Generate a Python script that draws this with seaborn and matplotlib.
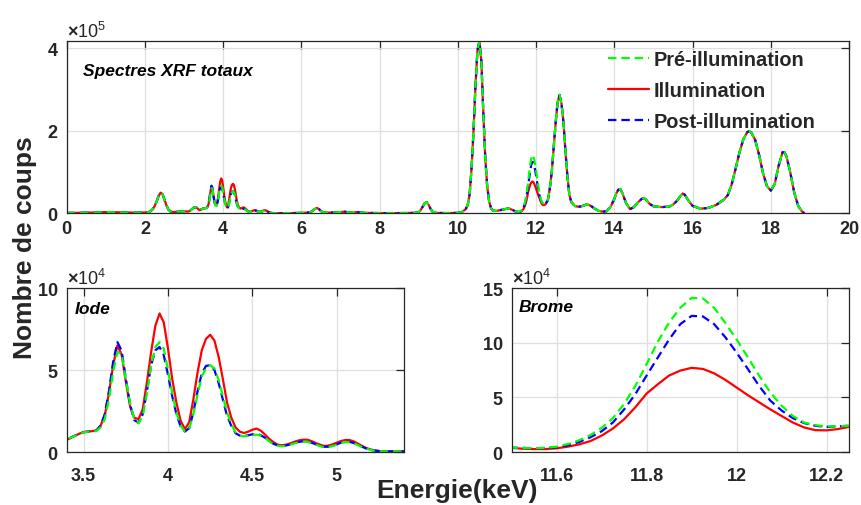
import numpy as np
import pandas as pd
import seaborn as sns
import matplotlib
matplotlib.use("Agg")
import matplotlib.pyplot as plt
from matplotlib.ticker import ScalarFormatter, FuncFormatter

# ---- Données (coups en unités de 1e4) ----
# zone basse énergie, commune aux trois spectres
e_bas = [0.0, 0.25, 0.5, 0.75, 1.0, 1.25, 1.5, 1.75, 2.0, 2.1, 2.15, 2.2, 2.25, 2.3,
         2.35, 2.4, 2.45, 2.5, 2.55, 2.6, 2.65, 2.7, 2.8, 2.9, 3.0, 3.1, 3.15, 3.2,
         3.25, 3.3, 3.35]
c_bas = [0.1, 0.1, 0.15, 0.2, 0.3, 0.25, 0.2, 0.15, 0.2, 0.3, 0.6, 1.0, 1.8, 2.9,
         4.2, 5.0, 4.6, 3.3, 1.9, 0.9, 0.45, 0.3, 0.35, 0.45, 0.5, 0.4, 0.6, 1.0,
         1.4, 1.5, 1.1]

# zone de l'iode (3.4 - 5.4 keV, pas de 0.025 keV)
e_iode = list(np.round(np.linspace(3.4, 5.4, 81), 3))
iode_pre = [0.73, 0.88, 1.00, 1.10, 1.20, 1.24, 1.25, 1.28, 1.50, 2.00, 3.20, 4.90,
            6.10, 6.00, 4.40, 3.00, 2.00, 1.75, 2.20, 3.60, 5.30, 6.40, 6.70, 6.30,
            5.00, 3.60, 2.40, 1.60, 1.25, 1.40, 2.30, 3.50, 4.60, 5.10, 5.30, 5.10,
            4.40, 3.40, 2.40, 1.70, 1.20, 1.00, 0.95, 1.00, 1.05, 1.05, 1.00, 0.85,
            0.65, 0.48, 0.38, 0.35, 0.38, 0.45, 0.53, 0.60, 0.63, 0.62, 0.55, 0.45,
            0.36, 0.30, 0.30, 0.36, 0.45, 0.55, 0.60, 0.60, 0.53, 0.42, 0.30, 0.20,
            0.13, 0.08, 0.05, 0.04, 0.04, 0.04, 0.04, 0.04, 0.04]
iode_ill = [0.73, 0.88, 1.00, 1.12, 1.22, 1.26, 1.27, 1.32, 1.60, 2.20, 3.60, 5.30,
            6.50, 5.95, 4.30, 2.80, 2.10, 2.00, 2.60, 4.25, 6.10, 7.70, 8.45, 7.90,
            6.30, 4.45, 3.00, 1.90, 1.40, 1.80, 3.20, 4.85, 6.20, 6.90, 7.15, 6.80,
            5.80, 4.45, 3.00, 2.10, 1.50, 1.24, 1.16, 1.24, 1.36, 1.43, 1.30, 1.06,
            0.80, 0.60, 0.45, 0.41, 0.45, 0.53, 0.63, 0.71, 0.75, 0.75, 0.67, 0.55,
            0.45, 0.37, 0.39, 0.47, 0.57, 0.67, 0.73, 0.73, 0.65, 0.51, 0.37, 0.24,
            0.16, 0.10, 0.06, 0.05, 0.04, 0.04, 0.04, 0.04, 0.04]
iode_post = [0.75, 0.88, 1.00, 1.10, 1.20, 1.24, 1.25, 1.30, 1.60, 2.30, 3.70, 5.50,
             6.70, 6.20, 4.50, 2.90, 1.95, 1.78, 2.30, 3.70, 5.30, 6.20, 6.40, 5.90,
             4.70, 3.40, 2.30, 1.55, 1.25, 1.45, 2.40, 3.70, 4.80, 5.25, 5.30, 5.00,
             4.20, 3.20, 2.20, 1.60, 1.15, 1.00, 0.98, 1.02, 1.08, 1.10, 1.02, 0.87,
             0.67, 0.50, 0.40, 0.37, 0.40, 0.47, 0.55, 0.62, 0.65, 0.64, 0.57, 0.47,
             0.38, 0.32, 0.32, 0.38, 0.47, 0.57, 0.62, 0.62, 0.55, 0.44, 0.32, 0.21,
             0.14, 0.09, 0.06, 0.05, 0.04, 0.04, 0.04, 0.04, 0.04]

# zone intermédiaire, commune
e_mid = [5.5, 5.75, 6.0, 6.2, 6.25, 6.3, 6.35, 6.4, 6.45, 6.5, 6.55, 6.75, 7.0, 7.1,
         7.25, 7.45, 7.6, 8.0, 8.5, 8.9, 9.0, 9.05, 9.1, 9.15, 9.2, 9.25, 9.3, 9.35,
         9.45, 9.7, 10.0, 10.1, 10.2, 10.25, 10.3, 10.35, 10.4, 10.45, 10.5, 10.55,
         10.6, 10.65, 10.7, 10.75, 10.8, 10.85, 10.9, 11.0, 11.1, 11.2, 11.3, 11.4,
         11.475]
c_mid = [0.03, 0.05, 0.1, 0.2, 0.4, 0.7, 1.1, 1.3, 1.0, 0.55, 0.25, 0.15, 0.3, 0.4,
         0.15, 0.3, 0.1, 0.05, 0.05, 0.1, 0.3, 0.8, 1.6, 2.4, 2.7, 2.1, 1.1, 0.4,
         0.1, 0.05, 0.1, 0.3, 1.0, 2.0, 4.5, 11.0, 20.0, 31.0, 39.5, 41.7,
         37.0, 24.5, 13.5, 6.5, 2.8, 1.2, 0.6, 0.6, 0.8, 1.0, 1.2, 0.8,
         0.45]

# zone du brome (11.5 - 12.25 keV, pas de 0.025 keV)
e_brome = list(np.round(np.linspace(11.5, 12.25, 31), 3))
brome_pre = [0.40, 0.38, 0.35, 0.38, 0.49, 0.73, 1.07, 1.55, 2.20, 3.10, 4.40, 6.05,
             8.05, 10.10, 11.85, 13.20, 14.10, 14.05, 13.20, 11.80, 10.30, 8.66, 7.00,
             5.45, 4.24, 3.30, 2.70, 2.45, 2.35, 2.35, 2.40]
brome_ill = [0.37, 0.30, 0.27, 0.27, 0.34, 0.49, 0.70, 1.00, 1.50, 2.15, 3.00, 4.10,
             5.35, 6.20, 7.00, 7.45, 7.70, 7.60, 7.20, 6.60, 5.90, 5.20, 4.55, 3.90,
             3.30, 2.70, 2.25, 2.00, 1.98, 2.10, 2.30]
brome_post = [0.40, 0.38, 0.35, 0.37, 0.43, 0.62, 0.92, 1.35, 1.90, 2.70, 3.90, 5.30,
              7.00, 8.65, 10.30, 11.70, 12.45, 12.40, 11.70, 10.50, 9.10, 7.60, 6.05,
              4.70, 3.80, 3.10, 2.65, 2.40, 2.30, 2.35, 2.40]

# zone haute énergie, commune
e_haut = [12.3, 12.35, 12.4, 12.45, 12.5, 12.55, 12.6, 12.65, 12.7, 12.75, 12.8, 12.85,
          12.9, 13.0, 13.1, 13.2, 13.3, 13.4, 13.5, 13.6, 13.7, 13.8, 13.9, 14.0,
          14.05, 14.1, 14.15, 14.2, 14.3, 14.4, 14.5, 14.6, 14.7, 14.75, 14.8, 14.9,
          15.0, 15.2, 15.4, 15.5, 15.6, 15.7, 15.75, 15.8, 15.9, 16.0, 16.2, 16.4,
          16.6, 16.8, 16.9, 17.0, 17.1, 17.2, 17.3, 17.4, 17.45, 17.5, 17.6, 17.7,
          17.8, 17.9, 18.0, 18.1, 18.2, 18.3, 18.35, 18.4, 18.5, 18.6, 18.7, 18.8,
          18.85]
c_haut = [3.2, 6.0, 10.0, 16.0, 22.0, 27.0, 28.7, 26.5, 22.0, 15.0, 9.0, 4.5,
          2.7, 1.7, 1.6, 1.8, 2.2, 1.8, 1.1, 0.6, 0.4, 0.5, 1.5, 3.5,
          4.8, 5.7, 5.9, 5.0, 2.5, 1.0, 1.5, 2.6, 3.5, 3.7, 3.4, 2.3,
          1.7, 1.5, 1.6, 2.1, 3.0, 4.3, 4.8, 4.5, 3.0, 1.8, 1.1, 1.3,
          2.0, 3.3, 4.4, 7.0, 10.8, 14.8, 18.0, 19.7, 19.9, 19.6, 17.8, 14.2,
          9.8, 6.6, 5.5, 7.1, 11.5, 14.8, 14.8, 13.8, 9.8, 5.0, 1.8, 0.4,
          0.1]

# assemblage des spectres complets (coups)
energie = np.array(e_bas + e_iode + e_mid + e_brome + e_haut)
pre = np.array(c_bas + iode_pre + c_mid + brome_pre + c_haut) * 1e4
ill = np.array(c_bas + iode_ill + c_mid + brome_ill + c_haut) * 1e4
post = np.array(c_bas + iode_post + c_mid + brome_post + c_haut) * 1e4

spectres = pd.DataFrame({"energie": energie, "pre": pre, "ill": ill, "post": post})

# ---- Style ----
sns.set_style("whitegrid")
plt.rcParams["font.family"] = ["Liberation Sans", "DejaVu Sans"]
plt.rcParams["font.weight"] = "bold"
plt.rcParams["mathtext.fontset"] = "custom"
plt.rcParams["mathtext.rm"] = "Liberation Sans"

gris = "#262626"
series = [  # (colonne, couleur, style, label)
    ("ill", "#ff0000", "-", "Illumination"),
    ("post", "#0000ff", (0, (3.8, 2.2)), "Post-illumination"),
    ("pre", "#00ff00", (0, (3.8, 2.2)), "Pré-illumination"),
]


class OrdreFixe(ScalarFormatter):
    def __init__(self, ordre):
        super().__init__(useMathText=True, useOffset=False)
        self.ordre = ordre

    def _set_order_of_magnitude(self):
        self.orderOfMagnitude = self.ordre


def habiller(ax, xlim, ylim, xticks, yticks, ordre, pad_x):
    ax.set_xlim(*xlim)
    ax.set_ylim(*ylim)
    ax.set_xticks(xticks)
    ax.set_yticks(yticks)
    ax.xaxis.set_major_formatter(FuncFormatter(lambda v, p: f"{v:g}"))
    ax.yaxis.set_major_formatter(OrdreFixe(ordre))
    ax.set_xlabel("")
    ax.set_ylabel("")
    ax.grid(True, color="#dfdfdf", linewidth=0.9)
    ax.tick_params(axis="both", direction="in", length=5.5, width=0.9, colors=gris,
                   labelsize=13, top=True, right=True)
    ax.tick_params(axis="x", pad=pad_x)
    ax.tick_params(axis="y", pad=6)
    for sp in ax.spines.values():
        sp.set_color(gris)
        sp.set_linewidth(0.9)
    off = ax.yaxis.get_offset_text()
    off.set_fontsize(13)
    off.set_fontweight("normal")
    off.set_color(gris)


fig = plt.figure(figsize=(8.61, 5.06), dpi=100)
ax_tot = fig.add_axes([0.0775, 0.5765, 0.9086, 0.3399])
ax_iode = fig.add_axes([0.0775, 0.1047, 0.3921, 0.3241])
ax_br = fig.add_axes([0.5943, 0.1047, 0.3918, 0.3241])

lignes = {}
for ax in (ax_tot, ax_iode, ax_br):
    for col, couleur, style, label in series:
        sns.lineplot(data=spectres, x="energie", y=col, ax=ax, color=couleur,
                     linestyle=style, linewidth=1.6, label=label)
        if ax is ax_tot:
            lignes[col] = ax.get_lines()[-1]
    if ax.get_legend() is not None:
        ax.get_legend().remove()

habiller(ax_tot, (0, 20), (0, pre.max()), range(0, 21, 2), [0, 2e5, 4e5], 5, 5)
habiller(ax_iode, (3.4, 5.4), (0, 1e5), [3.5, 4, 4.5, 5], [0, 5e4, 1e5], 4, 11)
habiller(ax_br, (11.5, 12.25), (0, 1.5e5), [11.6, 11.8, 12, 12.2], [0, 5e4, 1e5, 1.5e5], 4, 11)

ax_tot.legend(handles=[lignes["pre"], lignes["ill"], lignes["post"]],
              labels=["Pré-illumination", "Illumination", "Post-illumination"],
              loc="upper right", bbox_to_anchor=(0.957, 0.95), frameon=False,
              fontsize=14.4, handlelength=2.05, handletextpad=0.25,
              labelspacing=0.6, borderpad=0, borderaxespad=0)

ax_tot.text(0.021, 0.804, "Spectres XRF totaux", transform=ax_tot.transAxes,
            fontsize=12.5, fontweight="bold", fontstyle="italic", va="baseline",
            color="black")
ax_iode.text(0.025, 0.846, "Iode", transform=ax_iode.transAxes,
             fontsize=12.5, fontweight="bold", fontstyle="italic", va="baseline",
             color="black")
ax_br.text(0.022, 0.862, "Brome", transform=ax_br.transAxes,
           fontsize=12.5, fontweight="bold", fontstyle="italic", va="baseline",
           color="black")

fig.text(0.029, 0.511, "Nombre de coups", rotation=90, ha="center", va="center",
         fontsize=19, fontweight="bold", color=gris)
fig.text(0.531, 0.015, "Energie(keV)", ha="center", va="baseline",
         fontsize=19, fontweight="bold", color=gris)

fig.savefig("out.png", dpi=100)
